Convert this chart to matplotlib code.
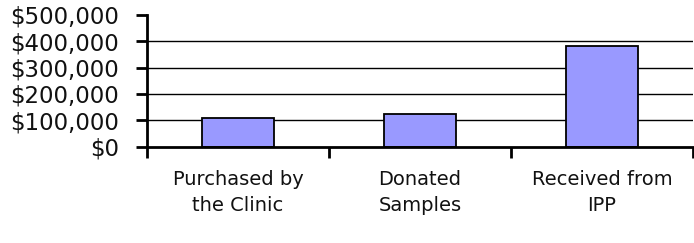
import matplotlib
matplotlib.use('Agg')
import matplotlib.pyplot as plt
from matplotlib.ticker import FuncFormatter, MultipleLocator

# data
categories = ["Purchased by\nthe Clinic", "Donated\nSamples", "Received from\nIPP"]
values = [108000, 123000, 382000]

fig = plt.figure(figsize=(6.94, 2.43), dpi=100)
ax = fig.add_axes([0.2118, 0.3963, 0.7868, 0.5432])

x = list(range(len(categories)))
ax.bar(x, values, width=0.4, color="#9999ff", edgecolor="black", linewidth=1.3, zorder=3)

ax.set_xlim(-0.5, len(categories) - 0.5)
ax.set_ylim(0, 500000)
ax.yaxis.set_major_locator(MultipleLocator(100000))
ax.yaxis.set_major_formatter(FuncFormatter(lambda v, p: "${:,.0f}".format(v)))

# gridlines at 100k..400k only
for v in range(100000, 500000, 100000):
    ax.axhline(v, color="black", linewidth=1, zorder=1)

# category separators as ticks
ax.set_xticks([-0.5, 0.5, 1.5, 2.5])
ax.set_xticklabels([])
ax.set_xticks(x, minor=True)
ax.set_xticklabels(categories, minor=True, fontsize=14, linespacing=1.45, color="#111111")
ax.tick_params(axis="x", which="minor", length=0, pad=17)
ax.tick_params(axis="x", which="major", length=8, width=2, direction="out")
ax.tick_params(axis="y", length=8, width=2, direction="out", labelsize=16.5, pad=12,
               labelcolor="#111111")

for s in ["top", "right"]:
    ax.spines[s].set_visible(False)
ax.spines["left"].set_linewidth(2)
ax.spines["bottom"].set_linewidth(2)
ax.spines["bottom"].set_zorder(4)

fig.savefig("out.png", dpi=100)
